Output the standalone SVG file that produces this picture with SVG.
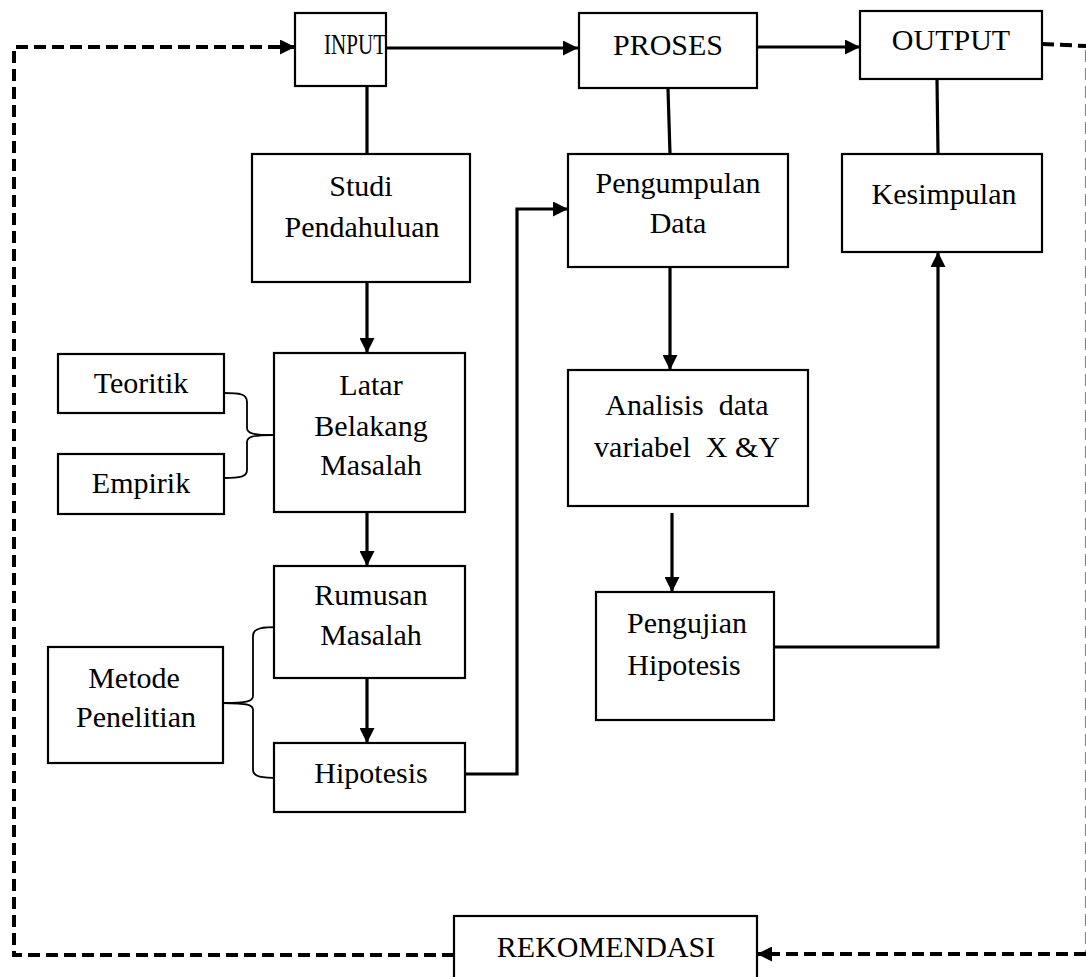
<svg xmlns="http://www.w3.org/2000/svg" width="1086" height="977" viewBox="0 0 1086 977">
<style>
.box{fill:#fff;stroke:#000;stroke-width:2.2}
.t{font-family:"Liberation Serif","Times New Roman",serif;font-size:30px;fill:#000;text-anchor:middle;white-space:pre}
.ln{fill:none;stroke:#000;stroke-width:3.2}
.dash{fill:none;stroke:#000;stroke-width:4;stroke-dasharray:12 6}
.br{fill:none;stroke:#000;stroke-width:1.8}
</style>
<defs>
<marker id="ah" markerUnits="userSpaceOnUse" markerWidth="15" markerHeight="15" refX="14" refY="7" orient="auto" viewBox="0 0 14 14">
<path d="M0,0 L14,7 L0,14 z" fill="#000"/>
</marker>
</defs>
<rect width="1086" height="977" fill="#fff"/>
<g id="connectors">
<line class="ln" x1="386" y1="48" x2="578" y2="48" marker-end="url(#ah)"/>
<line class="ln" x1="757" y1="47" x2="860" y2="47" marker-end="url(#ah)"/>
<line class="ln" x1="367" y1="86" x2="367" y2="154"/>
<line class="ln" x1="668" y1="89" x2="670" y2="154"/>
<line class="ln" x1="937" y1="79" x2="938" y2="154"/>
<line class="ln" x1="367" y1="282" x2="367" y2="353" marker-end="url(#ah)"/>
<line class="ln" x1="367" y1="512" x2="367" y2="566" marker-end="url(#ah)"/>
<line class="ln" x1="367" y1="678" x2="367" y2="743" marker-end="url(#ah)"/>
<polyline class="ln" points="465,774 517,774 517,209 568,209" marker-end="url(#ah)"/>
<line class="ln" x1="670" y1="267" x2="670" y2="370" marker-end="url(#ah)"/>
<line class="ln" x1="672" y1="513" x2="672" y2="592" marker-end="url(#ah)"/>
<polyline class="ln" points="774,647 938,647 938,252" marker-end="url(#ah)"/>
<polyline class="dash" points="454,955 14,955 14,47 295,47" marker-end="url(#ah)"/>
<line class="dash" x1="1042" y1="44" x2="1086" y2="46"/>
<line x1="1085.5" y1="50" x2="1085.5" y2="952" stroke="#888" stroke-width="1.2" stroke-dasharray="12 6"/>
<line class="dash" x1="1086" y1="954" x2="757" y2="954" marker-end="url(#ah)"/>
<path class="br" d="M224,393 C240,393 247,394 247,402 L247,428 C247,433 252,435 273,435 C252,435 247,437 247,442 L247,470 C247,477 240,478 224,478"/>
<path class="br" d="M280,627 C262,627 253,628 253,636 L253,696 C253,701 248,703 223,703 C248,703 253,705 253,710 L253,770 C253,777 262,778 280,778"/>
</g>
<g id="input"><rect class="box" x="295" y="13" width="91" height="73"/><text class="t" x="355" y="54" textLength="62" lengthAdjust="spacingAndGlyphs">INPUT</text></g>
<g id="proses"><rect class="box" x="579" y="13" width="178" height="75"/><text class="t" x="668" y="55">PROSES</text></g>
<g id="output"><rect class="box" x="860" y="11" width="182" height="68"/><text class="t" x="951" y="50">OUTPUT</text></g>
<g id="studi"><rect class="box" x="252" y="154" width="218" height="128"/><text class="t" x="361" y="196">Studi</text><text class="t" x="362" y="237">Pendahuluan</text></g>
<g id="latar"><rect class="box" x="274" y="353" width="191" height="159"/><text class="t" x="371" y="395">Latar</text><text class="t" x="371" y="436">Belakang</text><text class="t" x="371" y="475">Masalah</text></g>
<g id="teoritik"><rect class="box" x="58" y="354" width="166" height="59"/><text class="t" x="141" y="393">Teoritik</text></g>
<g id="empirik"><rect class="box" x="58" y="454" width="166" height="60"/><text class="t" x="141" y="493">Empirik</text></g>
<g id="rumusan"><rect class="box" x="274" y="566" width="191" height="112"/><text class="t" x="371" y="605">Rumusan</text><text class="t" x="371" y="645">Masalah</text></g>
<g id="hipotesis"><rect class="box" x="274" y="743" width="191" height="69"/><text class="t" x="371" y="783">Hipotesis</text></g>
<g id="metode"><rect class="box" x="48" y="647" width="175" height="116"/><text class="t" x="134" y="688">Metode</text><text class="t" x="136" y="727">Penelitian</text></g>
<g id="pengumpulan"><rect class="box" x="568" y="154" width="220" height="113"/><text class="t" x="678" y="193">Pengumpulan</text><text class="t" x="678" y="233">Data</text></g>
<g id="analisis"><rect class="box" x="568" y="370" width="240" height="136"/><text class="t" x="687" y="415">Analisis  data</text><text class="t" x="687" y="457">variabel  X &amp;Y</text></g>
<g id="pengujian"><rect class="box" x="596" y="592" width="178" height="128"/><text class="t" x="687" y="633">Pengujian</text><text class="t" x="684" y="675">Hipotesis</text></g>
<g id="kesimpulan"><rect class="box" x="842" y="154" width="200" height="98"/><text class="t" x="944" y="204">Kesimpulan</text></g>
<g id="rekomendasi"><rect class="box" x="454" y="916" width="303" height="70"/><text class="t" x="606" y="957">REKOMENDASI</text></g>
</svg>
